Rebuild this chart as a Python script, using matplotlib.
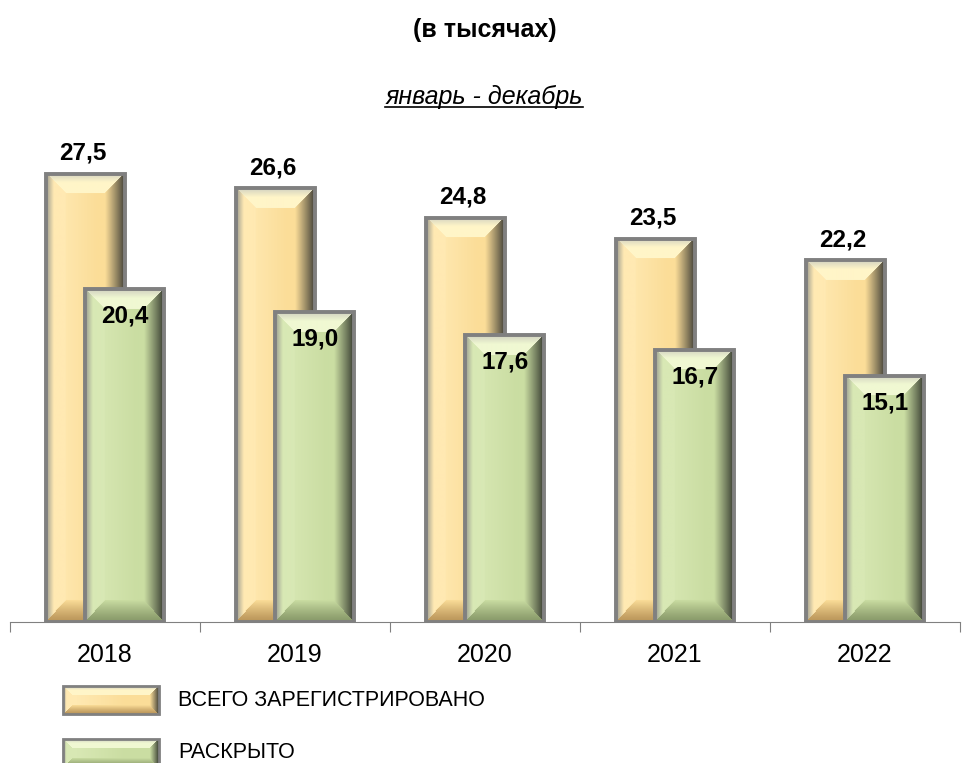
import matplotlib
matplotlib.use("Agg")
import matplotlib.pyplot as plt
import numpy as np
from matplotlib.patches import Rectangle
from matplotlib.colors import to_rgb

plt.rcParams['font.family'] = ['Liberation Sans', 'DejaVu Sans']

years = ['2018', '2019', '2020', '2021', '2022']
total = [27.5, 26.6, 24.8, 23.5, 22.2]
solved = [20.4, 19.0, 17.6, 16.7, 15.1]
series_names = ['ВСЕГО ЗАРЕГИСТРИРОВАНО', 'РАСКРЫТО']
title = '(в тысячах)'
subtitle = 'январь - декабрь'

W, H = 963, 763
fig = plt.figure(figsize=(W / 100, H / 100), dpi=100)

ax_left, ax_right = 10, 960
base_y, top_y = 622, 130
ax = fig.add_axes([ax_left / W, (H - base_y) / H, (ax_right - ax_left) / W, (base_y - top_y) / H])
cat_px = 193.5
xmax = -0.5 + (ax_right - ax_left) / cat_px
px_per_unit = 16.3
ymax = (base_y - top_y) / px_per_unit

scheme = {
    'orange': dict(face='#FBDD98', light='#FFE9B2', high='#FFF5C8', dark='#3A3A34',
                   bottom='#B99458', edge='#808080'),
    'green': dict(face='#CADDA2', light='#D8E8B4', high='#F0F8D2', dark='#34382E',
                  bottom='#879868', edge='#808080'),
}

bar_px = 80


def mix(a, b, t):
    a = np.array(to_rgb(a))
    b = np.array(to_rgb(b))
    t = np.clip(t, 0, 1)[..., None]
    return a * (1 - t) + b * t


def bar_image(wpx, hpx, c, bs, bt, bb):
    wpx = max(int(round(wpx)), 2)
    hpx = max(int(round(hpx)), 2)
    xs = (np.arange(wpx) + 0.5)[None, :] * np.ones((hpx, 1))
    ys = (np.arange(hpx) + 0.5)[:, None] * np.ones((1, wpx))
    tl = xs / bs
    tr = (wpx - xs) / bs
    tt = ys / bt
    tb = (hpx - ys) / bb
    stack = np.stack([tl, tr, tt, tb])
    reg = np.argmin(stack, axis=0)
    mn = np.min(stack, axis=0)
    u = xs / wpx
    img = mix(c['light'], c['face'], np.clip((u - 0.15) / 0.5, 0, 1))
    left = mix('#9A9A90', c['light'], tl * 2.5)
    right = mix(c['dark'], c['face'], tr ** 0.9)
    top = mix('#D0D0C0', c['high'], tt * 2.2)
    bottom = mix(c['bottom'], c['face'], tb ** 1.2)
    inb = mn < 1
    for k, part in enumerate([left, right, top, bottom]):
        m = inb & (reg == k)
        img[m] = part[m]
    return img


def bevel_bar(ax, xc, h, c, z):
    x0, x1 = xc - bar_px / cat_px / 2, xc + bar_px / cat_px / 2
    img = bar_image(bar_px, h * px_per_unit, c, 20, 20, 22)
    ax.imshow(img, extent=[x0, x1, 0, h], origin='upper', aspect='auto', zorder=z,
              interpolation='bilinear')
    ax.add_patch(Rectangle((x0, 0), x1 - x0, h, facecolor='none', edgecolor=c['edge'],
                           lw=2.8, zorder=z + 0.2))


off = 20 / cat_px
for i, (t, s) in enumerate(zip(total, solved)):
    bevel_bar(ax, i - off, t, scheme['orange'], 2 + i * 2)
    bevel_bar(ax, i + off, s, scheme['green'], 3 + i * 2)
    ax.text(i - off - 0.015, t + 0.55, f'{t:.1f}'.replace('.', ','), ha='center', va='bottom',
            fontsize=17.5, fontweight='bold', zorder=20)
    ax.text(i + off, s - 0.95, f'{s:.1f}'.replace('.', ','), ha='center', va='top',
            fontsize=17.5, fontweight='bold', zorder=20)

ax.set_xlim(-0.5, xmax)
ax.set_ylim(0, ymax)
for sp in ['top', 'right', 'left']:
    ax.spines[sp].set_visible(False)
ax.spines['bottom'].set_color('#808080')
ax.spines['bottom'].set_zorder(30)
ax.set_yticks([])
ax.set_xticks([k + 0.5 for k in range(-1, 5)])
ax.set_xticklabels([])
ax.tick_params(axis='x', length=7, color='#808080', direction='out')
ax.set_xticks(range(len(years)), minor=True)
ax.set_xticklabels(years, minor=True, fontsize=18)
ax.tick_params(axis='x', which='minor', length=0, pad=15)
ax.patch.set_visible(False)

fig.text(485 / W, 1 - 30 / H, title, ha='center', va='center', fontsize=18, fontweight='bold')
st = fig.text(484 / W, 1 - 97 / H, subtitle, ha='center', va='center', fontsize=18, style='italic')
fig.canvas.draw()
bb = st.get_window_extent()
fig.add_artist(plt.Line2D([bb.x0 / W, bb.x1 / W], [(bb.y0 + 2) / H, (bb.y0 + 2) / H],
                          transform=fig.transFigure, color='black', lw=1.2))

lax = fig.add_axes([0, 0, 1, 1])
lax.set_xlim(0, W)
lax.set_ylim(0, H)
lax.axis('off')
lax.patch.set_visible(False)
for k, (name, key) in enumerate(zip(series_names, ['orange', 'green'])):
    c = scheme[key]
    x0, x1 = 63, 159
    ytop = 686 + k * 53
    ybot = ytop + 28
    img = bar_image(x1 - x0, ybot - ytop, c, 9, 9, 9)
    lax.imshow(img, extent=[x0, x1, H - ybot, H - ytop], origin='upper', aspect='auto',
               interpolation='bilinear')
    lax.add_patch(Rectangle((x0, H - ybot), x1 - x0, ybot - ytop, facecolor='none',
                            edgecolor=c['edge'], lw=2))
    lax.text(178, H - (ytop + ybot) / 2, name, ha='left', va='center', fontsize=15.5)
lax.set_xlim(0, W)
lax.set_ylim(0, H)

fig.savefig('out.png', dpi=100)
